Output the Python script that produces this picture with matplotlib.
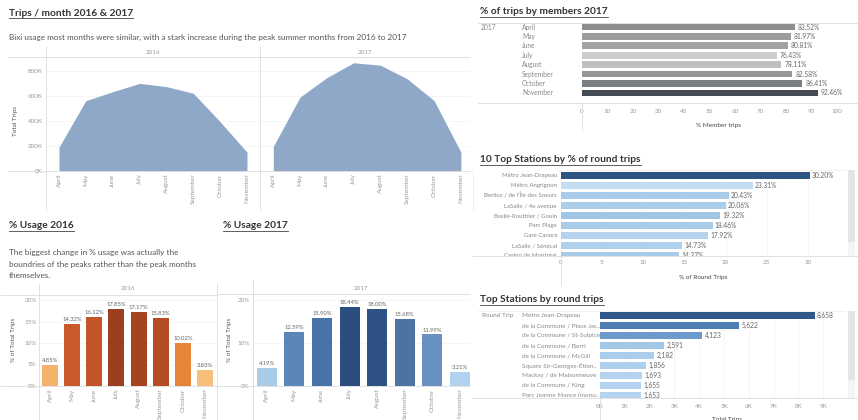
import matplotlib
matplotlib.use('Agg')
import matplotlib.pyplot as plt
from matplotlib.lines import Line2D
from matplotlib.patches import Rectangle
from matplotlib.transforms import blended_transform_factory, Bbox, TransformedBbox
import numpy as np

plt.rcParams['font.family'] = ['Lato', 'DejaVu Sans']

# ---- data ----
months = ['April', 'May', 'June', 'July', 'August', 'September', 'October', 'November']
trips_2016 = [191000, 563000, 634000, 701000, 675000, 622000, 394000, 151000]
trips_2017 = [197000, 592000, 747000, 866000, 846000, 737000, 563000, 151000]
pct_2016 = [4.85, 14.32, 16.12, 17.85, 17.17, 15.83, 10.02, 3.83]
pct_2017 = [4.19, 12.59, 15.90, 18.44, 18.00, 15.68, 11.99, 3.21]
member_pct = [83.52, 81.97, 80.81, 76.43, 78.11, 82.58, 86.41, 92.46]

pct_stations = ['Métro Jean-Drapeau', 'Métro Angrignon', "Berlioz / de l'Île des Soeurs",
                'LaSalle / 4e avenue', 'Basile-Routhier / Gouin', 'Parc Plage',
                'Gare Canora', 'LaSalle / Sénécal', 'Casino de Montréal']
round_pct = [30.20, 23.31, 20.43, 20.06, 19.32, 18.46, 17.92, 14.73, 14.37]

trip_stations = ['Métro Jean-Drapeau', 'de la Commune / Place Jac..', 'de la Commune / St-Sulpice',
                 'de la Commune / Berri', 'de la Commune / McGill', 'Square Sir-Georges-Étien..',
                 'Mackay / de Maisonneuve', 'de la Commune / King', 'Parc Jeanne Mance (monu..']
round_trips = [8658, 5622, 4123, 2591, 2182, 1856, 1693, 1655, 1653]

# ---- colours ----
AREA = '#8FA8C8'
orange_cols = ['#F3B36B', '#C95A29', '#C3552A', '#9C3F1E', '#A64420', '#B44C24', '#E68538', '#F6C07A']
blue_cols = ['#A8CBE8', '#5A86B8', '#4873A6', '#2C4E7E', '#2F5284', '#4C74A3', '#6691C0', '#B0D2EE']
gray_cols = ['#8E8E8E', '#9C9C9C', '#A2A2A2', '#CDCDCD', '#BFBFBF', '#989898', '#7A7E83', '#454B55']
pct_cols = ['#2E5484', '#C3DDF2', '#A8CBE9', '#AACDEA', '#A0C6E6', '#A8CBE9', '#B4D3EE', '#B0D1ED', '#A8CBE9']
trip_cols = ['#2D5689', '#4E7DB4', '#6B9ACB', '#A2C8E8', '#A9CDEA', '#AFD0EC', '#B3D3EE', '#B3D3EE', '#B3D3EE']
TICK = '#9a9a9a'
LINE = '#dcdcdc'

W, H = 858, 420
fig = plt.figure(figsize=(W / 100, H / 100), dpi=100)


def px_axes(x0, y0, x1, y1):
    ax = fig.add_axes([x0 / W, 1 - y1 / H, (x1 - x0) / W, (y1 - y0) / H])
    for s in ax.spines.values():
        s.set_visible(False)
    ax.tick_params(length=0, colors=TICK, labelsize=4.5)
    ax.set_facecolor('none')
    return ax


def line(x0, y0, x1, y1, c=LINE, lw=0.6):
    fig.add_artist(Line2D([x0 / W, x1 / W], [1 - y0 / H, 1 - y1 / H], color=c, lw=lw,
                          transform=fig.transFigure))


def txt(x, y, s, **kw):
    return fig.text(x / W, 1 - y / H, s, **kw)


def clipbox(x0, y0, x1, y1):
    return TransformedBbox(Bbox.from_extents(x0 / W, 1 - y1 / H, x1 / W, 1 - y0 / H), fig.transFigure)


titles = []
titles.append(txt(9, 13, 'Trips / month 2016 & 2017', fontsize=7.3, fontweight='bold', color='#333333', va='center'))
titles.append(txt(480, 12, '% of trips by members 2017', fontsize=7.3, fontweight='bold', color='#333333', va='center'))
titles.append(txt(480, 160, '10 Top Stations by % of round trips', fontsize=7.3, fontweight='bold', color='#333333', va='center'))
titles.append(txt(480, 300, 'Top Stations by round trips', fontsize=7.3, fontweight='bold', color='#333333', va='center'))
titles.append(txt(9, 226, '% Usage 2016', fontsize=7.3, fontweight='bold', color='#333333', va='center'))
titles.append(txt(223, 226, '% Usage 2017', fontsize=7.3, fontweight='bold', color='#333333', va='center'))

txt(9, 37, 'Bixi usage most months were similar, with a stark increase during the peak summer months from 2016 to 2017',
    fontsize=5.85, color='#555555', va='center')
txt(9, 253, 'The biggest change in % usage was actually the', fontsize=5.85, color='#555555', va='center')
txt(9, 264.5, 'boundries of the peaks rather than the peak months', fontsize=5.85, color='#555555', va='center')
txt(9, 276, 'themselves.', fontsize=5.85, color='#555555', va='center')

# ---- area charts ----
x = np.arange(len(months))
for x0, x1, vals, year, xl, first in [(46, 260, trips_2016, '2016', (-0.484, 7.484), True),
                                       (260, 470, trips_2017, '2017', (-0.496, 7.34), False)]:
    ax = px_axes(x0, 57, x1, 171)
    ax.fill_between(x, vals, color=AREA, lw=0)
    ax.set_xlim(*xl)
    ax.set_ylim(0, 912000)
    ax.set_xticks(x)
    ax.set_xticklabels(months, rotation=90, fontsize=4.6)
    ax.tick_params(axis='x', pad=1.8)
    yt = [0, 200000, 400000, 600000, 800000]
    ax.set_yticks(yt)
    if first:
        ax.set_yticklabels(['0K', '200K', '400K', '600K', '800K'])
        ax.tick_params(axis='y', pad=2.5)
    else:
        ax.set_yticklabels([])
    ax.grid(axis='y', color='#f3f3f3', lw=0.5)
    ax.set_axisbelow(True)
    txt((x0 + x1) / 2, 52, year, fontsize=4.5, color=TICK, ha='center', va='center')
txt(15, 121, 'Total Trips', fontsize=4.6, color='#555555', rotation=90, ha='center', va='center')
line(8, 57, 470, 57)
line(8, 171, 470, 171)
line(46, 47, 46, 210)
line(260, 47, 260, 210)

# ---- % of trips by members ----
ax = px_axes(582, 23, 856, 103)
yp = np.arange(len(months))
ax.barh(yp, member_pct, height=0.72, color=gray_cols)
ax.set_xlim(0, 107.5)
ax.set_ylim(8.07, -0.43)
ax.set_yticks([])
ax.set_xticks(range(0, 101, 10))
ax.tick_params(axis='x', pad=4.3)
for i, v in enumerate(member_pct):
    ax.text(v + 1.2, i, f'{v:.2f}%', va='center', fontsize=4.8, color='#666666')
tr = blended_transform_factory(fig.transFigure, ax.transData)
ax.text(481 / W, 0, '2017', transform=tr, va='center', fontsize=4.8, color='#888888')
for i, m in enumerate(months):
    ax.text(522 / W, i, m, transform=tr, va='center', fontsize=4.8, color='#888888')
txt(718, 125.7, '% Member trips', fontsize=4.6, color='#444444', ha='center', va='center')
line(478, 23, 858, 23)
line(478, 103, 858, 103)
line(582, 103, 582, 130)

# ---- 10 top stations by % of round trips ----
ax = px_axes(560.7, 170, 845, 256)
ax.barh(np.arange(len(round_pct)), round_pct, height=0.72, color=pct_cols)
ax.set_xlim(0, 34.5)
ax.set_ylim(8.03, -0.57)
ax.set_yticks([])
ax.set_xticks(range(0, 31, 5))
ax.tick_params(axis='x', pad=3)
ax.grid(axis='x', color='#f2f2f2', lw=0.5)
ax.set_axisbelow(True)
tr = blended_transform_factory(fig.transFigure, ax.transData)
cb = clipbox(470, 170, 858, 256)
for i, (s, v) in enumerate(zip(pct_stations, round_pct)):
    t = ax.text(557 / W, i, s, transform=tr, ha='right', va='center', fontsize=4.4, color='#888888')
    t.set_clip_box(cb)
    t.set_clip_on(True)
    ax.text(v + 0.25, i, f'{v:.2f}%', va='center', fontsize=4.8, color='#666666', clip_on=True)
txt(703, 277, '% of Round Trips', fontsize=4.6, color='#444444', ha='center', va='center')
fig.add_artist(Rectangle((848 / W, 1 - 242 / H), 7 / W, 72 / H, transform=fig.transFigure,
                         color='#e4e4e4', lw=0))
fig.add_artist(Rectangle((848 / W, 1 - 256 / H), 7 / W, 14 / H, transform=fig.transFigure,
                         color='#f4f4f4', lw=0))
line(558, 170, 845, 170, c='#eeeeee')
line(472, 256, 858, 256)
line(560.7, 256, 560.7, 285)
line(473, 170, 473, 212, c='#eeeeee')

# ---- top stations by round trips ----
ax = px_axes(600, 311, 845, 397.7)
ax.barh(np.arange(len(round_trips)), round_trips, height=0.7, color=trip_cols)
ax.set_xlim(0, 9880)
ax.set_ylim(8.2, -0.47)
ax.set_yticks([])
ax.set_xticks(range(0, 9001, 1000))
ax.set_xticklabels([f'{k}K' for k in range(10)])
ax.tick_params(axis='x', pad=4.3)
ax.grid(axis='x', color='#f2f2f2', lw=0.5)
ax.set_axisbelow(True)
tr = blended_transform_factory(fig.transFigure, ax.transData)
cb = clipbox(470, 311, 858, 396.5)
t = ax.text(482 / W, 0, 'Round Trip', transform=tr, va='center', fontsize=4.6, color='#888888')
for i, (s, v) in enumerate(zip(trip_stations, round_trips)):
    t = ax.text(521.7 / W, i, s, transform=tr, ha='left', va='center', fontsize=4.6, color='#888888')
    t.set_clip_box(cb)
    t.set_clip_on(True)
    ax.text(v + 90, i, f'{v:,}', va='center', fontsize=4.8, color='#666666', clip_on=True)
txt(727, 419, 'Total Trips', fontsize=4.6, color='#444444', ha='center', va='center')
fig.add_artist(Rectangle((848 / W, 1 - 380 / H), 7 / W, 69 / H, transform=fig.transFigure,
                         color='#e4e4e4', lw=0))
fig.add_artist(Rectangle((848 / W, 1 - 397.7 / H), 7 / W, 17.7 / H, transform=fig.transFigure,
                         color='#f4f4f4', lw=0))
line(478, 311, 845, 311, c='#eeeeee')
line(472, 397.7, 858, 397.7)
line(600, 397.7, 600, 420)

# ---- % usage bars ----
for x0, x1, top, vals, cols, year, xl, yt in [
        (39.3, 217, 295, pct_2016, orange_cols, '2016', (-0.483, 7.54), [0, 5, 10, 15, 20]),
        (252.7, 470, 294, pct_2017, blue_cols, '2017', (-0.507, 7.36), [0, 10, 20])]:
    ax = px_axes(x0, top, x1, 386)
    ax.bar(x, vals, width=0.72, color=cols)
    ax.set_xlim(*xl)
    ax.set_ylim(0, (386 - top) / 4.3)
    ax.set_yticks(yt)
    ax.set_yticklabels([f'{v}%' for v in yt])
    ax.tick_params(axis='y', pad=2)
    ax.set_xticks(x)
    ax.set_xticklabels(months, rotation=90, fontsize=4.6)
    ax.tick_params(axis='x', pad=1.8)
    ax.grid(axis='y', color='#f3f3f3', lw=0.5)
    ax.set_axisbelow(True)
    for i, v in enumerate(vals):
        ax.text(i, v + 0.45, f'{v:.2f}%', ha='center', va='bottom', fontsize=4.2, color='#666666')
    txt((x0 + x1) / 2, top - 6, year, fontsize=4.5, color=TICK, ha='center', va='center')
txt(14, 340, '% of Total Trips', fontsize=4.6, color='#555555', rotation=90, ha='center', va='center')
txt(229.3, 340, '% of Total Trips', fontsize=4.6, color='#555555', rotation=90, ha='center', va='center')
line(0, 295, 217, 295)
line(217, 294, 470, 294)
line(0, 386, 470, 386)
line(39.3, 284, 39.3, 420)
line(217, 284, 217, 420)
line(252.7, 280, 252.7, 420)

# underline the titles
fig.canvas.draw()
for t in titles:
    bb = t.get_window_extent()
    fig.add_artist(Line2D([bb.x0 / W, bb.x1 / W], [(bb.y0 - 0.5) / H] * 2, color='#444444', lw=0.6,
                          transform=fig.transFigure))

fig.savefig('out.png', dpi=100)
